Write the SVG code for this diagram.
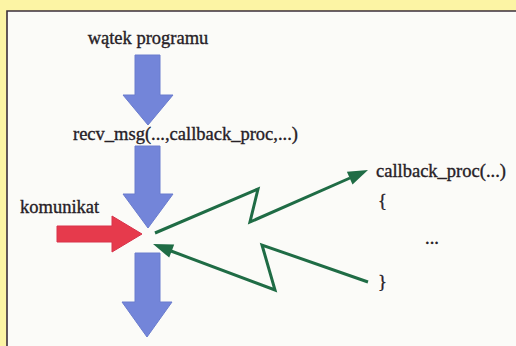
<svg xmlns="http://www.w3.org/2000/svg" width="516" height="346" viewBox="0 0 516 346">
  <style>
    .lbl { font-family: "Liberation Serif", "Times New Roman", serif; font-size: 18.5px; fill: #262026; stroke: #262026; stroke-width: 0.35; }
    .flow { fill: #7385d9; stroke: #6a7cce; stroke-width: 1; }
    .msg { fill: #e63a4c; stroke: #d8324a; stroke-width: 1; }
    .call { fill: none; stroke: #1f6c45; stroke-width: 3; stroke-linejoin: miter; }
    .head { fill: #1f6c45; }
  </style>

  <!-- page background and framed panel -->
  <rect x="0" y="0" width="516" height="346" fill="#fcf4a4"/>
  <rect x="7" y="11" width="509" height="335" fill="#fbfbf8"/>
  <path d="M7 346 V11 H516" fill="none" stroke="#3b2f3b" stroke-width="1.6"/>

  <!-- program thread label and first step -->
  <g id="thread">
    <text class="lbl" x="148" y="44" text-anchor="middle">wątek programu</text>
    <polygon class="flow" points="135,55 160,55 160,95 173,95 148,125 123,95 135,95"/>
  </g>

  <!-- receive call and the thread entering it -->
  <g id="recv">
    <text class="lbl" x="73" y="140">recv_msg(...,callback_proc,...)</text>
    <polygon class="flow" points="135,146 160,146 160,194 173,194 148,228 123,194 135,194"/>
  </g>

  <!-- thread continuing after the call -->
  <g id="continue">
    <polygon class="flow" points="135,253 160,253 160,302 172,302 147,337 122,302 135,302"/>
  </g>

  <!-- incoming message -->
  <g id="message">
    <text class="lbl" x="20" y="213">komunikat</text>
    <polygon class="msg" points="57,226 112,226 112,216 142,234 112,252 112,242 57,242"/>
  </g>

  <!-- callback procedure body -->
  <g id="callback">
    <text class="lbl" x="376" y="177">callback_proc(...)</text>
    <text class="lbl" x="378" y="207">{</text>
    <text class="lbl" x="425" y="244">...</text>
    <text class="lbl" x="378" y="288">}</text>
  </g>

  <!-- control transfer into the callback and back -->
  <g id="connectors">
    <polyline class="call" points="155,233 258,189 250,222 350,178"/>
    <polygon class="head" points="368,170 346.9,171.7 352.5,184.5"/>
    <polyline class="call" points="368,282 262,245 275,290 171,251"/>
    <polygon class="head" points="153,244 174.2,244.5 169.2,257.6"/>
  </g>
</svg>
